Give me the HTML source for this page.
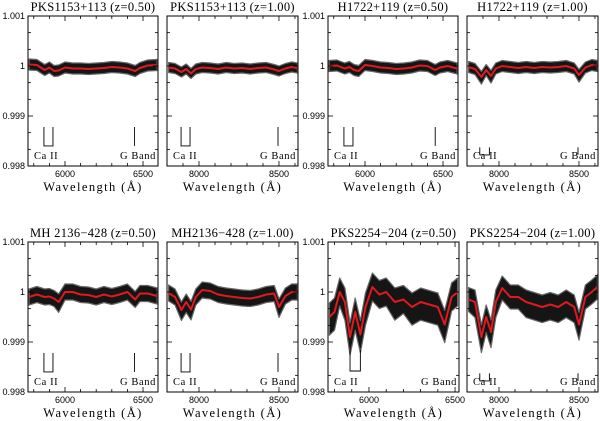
<!DOCTYPE html>
<html><head><meta charset="utf-8">
<style>
html,body{margin:0;padding:0;background:#fff;}
svg{display:block;}
.t{font-family:"Liberation Serif",serif;font-size:12.5px;fill:#000;letter-spacing:0.3px;}
.tk{font-family:"Liberation Sans",sans-serif;font-size:9px;fill:#000;}
.ax{font-family:"Liberation Serif",serif;font-size:12.5px;fill:#000;letter-spacing:1.4px;}
.an{font-family:"Liberation Serif",serif;font-size:10.5px;fill:#000;letter-spacing:0.6px;}
</style></head>
<body>
<svg id="fig" width="600" height="421" viewBox="0 0 600 421" xmlns="http://www.w3.org/2000/svg"></svg>
<script>
// ---- data ----
const wavesZ05 = [5770,5820,5870,5900,5930,5960,6000,6050,6100,6150,6200,6250,6300,6350,6400,6450,6480,6530,6590];
const wavesZ10 = [7810,7850,7890,7920,7950,7980,8020,8070,8120,8170,8220,8270,8320,8370,8420,8470,8500,8540,8580,8615];
const wavesP7  = [5770,5800,5830,5860,5890,5920,5950,5980,6020,6060,6100,6150,6200,6250,6300,6350,6400,6440,6480,6515];
// smoothed flux deviations (units of 1e-4 relative to 1)
const red1 = [0.3,0.2,-0.8,-0.3,-1.0,-0.9,-0.3,-0.5,-0.5,-0.6,-0.5,-0.4,-0.2,-0.3,-0.5,-1.0,-0.4,0.1,0.2];
const red2 = [-0.3,-0.5,-1.2,-0.6,-1.5,-0.6,-0.3,-0.4,-0.6,-0.3,-0.5,-0.4,-0.6,-0.4,-0.3,-0.7,-1.0,-0.5,-0.2,-0.4];
const red3 = [0,0.1,-0.5,-0.2,-0.8,-1.0,0.2,0,-0.3,-0.4,-0.6,-0.5,-0.3,0.1,0,-0.8,-0.3,0,-0.5];
const red4 = [-0.2,-0.6,-2.2,-0.8,-2.0,-0.5,0,-0.2,-0.4,-0.2,-0.4,-0.2,-0.3,-0.2,0,-0.5,-1.8,-0.3,0.2,0];
const red5 = [-1.0,-0.5,-1.0,-0.9,-1.3,-2.0,0,0,-0.5,-0.6,-1.0,-0.5,-0.9,-0.5,0,-1.5,-0.3,-0.3,-0.8];
const red6 = [-0.2,-1.0,-3.6,-2.0,-3.5,-1.0,0.4,0.2,-0.5,-0.8,-1.0,-1.2,-1.3,-1.0,-0.5,-0.3,-3.0,-0.8,0,0];
const red7 = [-5,-4,0,-2,-9,-4,-8.5,-3,1,-0.5,0,-2,-1.5,-3,-2,-2.5,-3,-6.5,-1,0];
const red8 = [-1.5,-2,-9,-5,-8,-2,0.8,-1,-1,-2,-2.5,-3,-2.5,-3,-2,-3,-6.5,-1,0,1];
const noiseHalf = [1.1,1.0,1.1,1.1,1.6,1.6,2.8,2.4];
const titles = ["PKS1153+113 (z=0.50)","PKS1153+113 (z=1.00)","H1722+119 (z=0.50)","H1722+119 (z=1.00)",
                "MH 2136\u2212428 (z=0.50)","MH2136\u2212428 (z=1.00)","PKS2254\u2212204 (z=0.50)","PKS2254\u2212204 (z=1.00)"];
const yTicks = [1.001,1,0.999,0.998];
const yTickLabels = ["1.001","1","0.999","0.998"];

// ---- layout ----
const NS="http://www.w3.org/2000/svg";
const svg=document.getElementById('fig');
function el(tag,attrs,parent){const e=document.createElementNS(NS,tag);for(const k in attrs)e.setAttribute(k,attrs[k]);(parent||svg).appendChild(e);return e;}
const panels=[
 {x0:28,x1:158,y0:16,y1:166,wmin:5763,wmax:6596,w:wavesZ05,r:red1,ylab:true,ca:[5865,5923],g:6445,big:true},
 {x0:167,x1:298,y0:16,y1:166,wmin:7800,wmax:8619,w:wavesZ10,r:red2,ylab:false,ca:[7888,7944],g:8494,big:true},
 {x0:328,x1:458,y0:16,y1:166,wmin:5763,wmax:6596,w:wavesZ05,r:red3,ylab:true,ca:[5865,5923],g:6450,big:true},
 {x0:467,x1:598,y0:16,y1:166,wmin:7800,wmax:8619,w:wavesZ10,r:red4,ylab:false,ca:[7880,7940],g:8494,big:false},
 {x0:28,x1:158,y0:242,y1:392,wmin:5763,wmax:6596,w:wavesZ05,r:red5,ylab:true,ca:[5865,5923],g:6445,big:true},
 {x0:167,x1:298,y0:242,y1:392,wmin:7800,wmax:8619,w:wavesZ10,r:red6,ylab:false,ca:[7888,7944],g:8494,big:true},
 {x0:328,x1:459,y0:242,y1:392,wmin:5762,wmax:6523,w:wavesP7,r:red7,ylab:true,ca:[5890,5950],g:null,big:true,p7:true},
 {x0:467,x1:598,y0:242,y1:392,wmin:7800,wmax:8619,w:wavesZ10,r:red8,ylab:false,ca:[7880,7940],g:8494,big:false}
];
panels.forEach((p,i)=>{
  const g=el('g',{});
  
  
  const X=w=>p.x0+(w-p.wmin)/(p.wmax-p.wmin)*(p.x1-p.x0);
  const Y=v=>p.y0+(1.001-v)/0.003*(p.y1-p.y0);
  const D=d=>Y(1+d*1e-4);
  const cid='c'+i;
  const cp=el('clipPath',{id:cid},g);el('rect',{x:p.x0,y:p.y0,width:p.x1-p.x0,height:p.y1-p.y0},cp);
  const dg=el('g',{'clip-path':'url(#'+cid+')'},g);
  const n=noiseHalf[i];
  let top=p.w.map((w,k)=>X(w).toFixed(1)+','+D(p.r[k]+n).toFixed(1));
  let bot=p.w.map((w,k)=>X(w).toFixed(1)+','+D(p.r[k]-n*(1+(Math.abs(p.r[k])>1.5?0.3:0))).toFixed(1)).reverse();
  const band=el('polygon',{points:top.concat(bot).join(' '),fill:'#151515',stroke:'#666','stroke-width':1.2,'stroke-linejoin':'round'},dg);
  
  
  const rl=el('polyline',{points:p.w.map((w,k)=>X(w).toFixed(1)+','+D(p.r[k]).toFixed(1)).join(' '),fill:'none',stroke:'#e0191f','stroke-width':2,'stroke-linejoin':'round'},dg);
  
  
  el('rect',{x:p.x0,y:p.y0,width:p.x1-p.x0,height:p.y1-p.y0,fill:'none',stroke:'#000','stroke-width':1},g);
  for(let w=Math.ceil(p.wmin/100)*100;w<=p.wmax;w+=100){
    const x=X(w),L=(w%500===0)?5:3;
    el('line',{x1:x,y1:p.y1,x2:x,y2:p.y1-L,stroke:'#000','stroke-width':0.8},g);
    el('line',{x1:x,y1:p.y0,x2:x,y2:p.y0+L,stroke:'#000','stroke-width':0.8},g);
    if(w%500===0){const t=el('text',{x:x,y:p.y1+11,'text-anchor':'middle',class:'tk'},g);t.textContent=w;
      }
  }
  for(let k=0;k<=9;k++){
    const y=p.y0+k*(p.y1-p.y0)/9,L=(k%3===0)?5:3;
    el('line',{x1:p.x0,y1:y,x2:p.x0+L,y2:y,stroke:'#000','stroke-width':0.8},g);
    el('line',{x1:p.x1,y1:y,x2:p.x1-L,y2:y,stroke:'#000','stroke-width':0.8},g);
  }
  if(p.ylab){yTicks.forEach((v,k)=>{const t=el('text',{x:p.x0-3,y:Y(v)+3,'text-anchor':'end',class:'tk'},g);t.textContent=yTickLabels[k];
    });}
  const tt=el('text',{x:(p.x0+p.x1)/2,y:p.y0-5,'text-anchor':'middle',class:'t'},g);tt.textContent=titles[i];
  
  const xl=el('text',{x:(p.x0+p.x1)/2,y:p.y1+25,'text-anchor':'middle',class:'ax'},g);xl.textContent='Wavelength (\u00c5)';
  
  const h=p.y1-p.y0;
  let mt,mb;
  if(p.p7){mt=p.y0+0.72*h;mb=p.y0+0.86*h;}
  else if(p.big){mt=p.y0+0.74*h;mb=p.y0+0.866*h;}
  else {mt=p.y0+0.876*h;mb=p.y0+0.926*h;}
  const ca1=X(p.ca[0]),ca2=X(p.ca[1]);
  const br=el('polyline',{points:`${ca1},${mt} ${ca1},${mb} ${ca2},${mb} ${ca2},${mt}`,fill:'none',stroke:'#000','stroke-width':0.9},g);
  
  const ct=el('text',{x:p.x0+6,y:p.y0+0.94*h+2,class:'an'},g);ct.textContent='Ca II';
  
  if(p.g){const gx=X(p.g);
    const gl=el('line',{x1:gx,y1:mt,x2:gx,y2:mb,stroke:'#000','stroke-width':0.9},g);
    }
  const gt=el('text',{x:p.x1-2,y:p.y0+0.94*h+2,'text-anchor':'end',class:'an'},g);gt.textContent='G Band';
  
});
</script>
</body></html>
